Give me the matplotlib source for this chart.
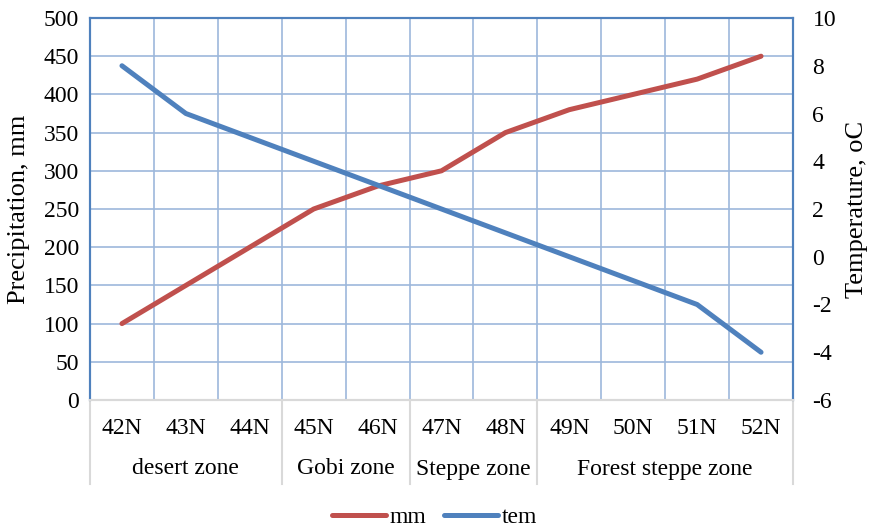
import matplotlib
matplotlib.use("Agg")
import matplotlib.pyplot as plt
from matplotlib.lines import Line2D

plt.rcParams['font.family'] = ['Liberation Serif', 'DejaVu Serif']
plt.rcParams['axes.unicode_minus'] = False

latitudes = ["42N", "43N", "44N", "45N", "46N", "47N", "48N", "49N", "50N", "51N", "52N"]
zones = ["desert zone", "Gobi zone", "Steppe zone", "Forest steppe zone"]
zone_sizes = [3, 2, 2, 4]
precip_mm = [100, 150, 200, 250, 280, 300, 350, 380, 400, 420, 450]
temp_c = [8, 6, 5, 4, 3, 2, 1, 0, -1, -2, -4]

RED = "#C0504D"
BLUE = "#4F81BD"
GRID = "#9DB8DB"
SEP = "#D9D9D9"
FS = 17

W, H = 869, 530
fig = plt.figure(figsize=(W / 100, H / 100), dpi=100)
x0, x1, y0, y1 = 90, 793, 18, 400
ax = fig.add_axes([x0 / W, 1 - y1 / H, (x1 - x0) / W, (y1 - y0) / H])
ax2 = ax.twinx()

xs = list(range(len(latitudes)))
ax.plot(xs, precip_mm, color=RED, lw=3.6, solid_capstyle='round', zorder=3)
ax2.plot(xs, temp_c, color=BLUE, lw=3.6, solid_capstyle='round', zorder=3)

ax.set_xlim(-0.5, len(latitudes) - 0.5)
ax.set_ylim(0, 500)
ax.set_yticks(range(0, 501, 50))
ax2.set_ylim(-6, 10)
ax2.set_yticks(range(-6, 11, 2))

# vertical gridlines sit between categories
ax.set_xticks([i + 0.5 for i in range(len(latitudes) - 1)], minor=True)
ax.set_xticks([])
ax.grid(True, which='minor', axis='x', color=GRID, lw=1.2)
ax.grid(True, which='major', axis='y', color=GRID, lw=1.2)
ax.set_axisbelow(True)

for a in (ax, ax2):
    a.tick_params(which='both', length=0, labelsize=FS)
    for s in ('left', 'right', 'top'):
        a.spines[s].set_color(BLUE)
        a.spines[s].set_linewidth(1.5)
    a.spines['bottom'].set_color(SEP)
    a.spines['bottom'].set_linewidth(1.5)
ax.tick_params(axis='y', pad=8)
ax2.tick_params(axis='y', pad=14)
for lab in ax2.get_yticklabels():
    lab.set_horizontalalignment('left')

ax.set_ylabel("Precipitation, mm", fontsize=19, labelpad=10)
ax2.set_ylabel("Temperature, oC", fontsize=19, labelpad=7)

# two-level category axis
trans = ax.get_xaxis_transform()
ax_h = y1 - y0
for i, lab in enumerate(latitudes):
    ax.text(i, -(428 - y1) / ax_h, lab, transform=trans, ha='center', va='center', fontsize=FS)
start = 0
bounds = [-0.5]
for name, n in zip(zones, zone_sizes):
    center = start + (n - 1) / 2
    ax.text(center, -(469 - y1) / ax_h, name, transform=trans, ha='center', va='center', fontsize=FS)
    start += n
    bounds.append(start - 0.5)
for b in bounds:
    ax.add_line(Line2D([b, b], [0, -(484 - y1) / ax_h], transform=trans, color=SEP,
                       lw=1.5, clip_on=False))

handles = [Line2D([], [], color=RED, lw=3.6, solid_capstyle='round'),
           Line2D([], [], color=BLUE, lw=3.6, solid_capstyle='round')]
fig.legend(handles, ["mm", "tem"], loc='center', bbox_to_anchor=(0.5, 1 - 517 / H),
           ncol=2, frameon=False, fontsize=FS, handlelength=2.3, handletextpad=0.15,
           columnspacing=0.75)

fig.savefig("out.png", dpi=100)
